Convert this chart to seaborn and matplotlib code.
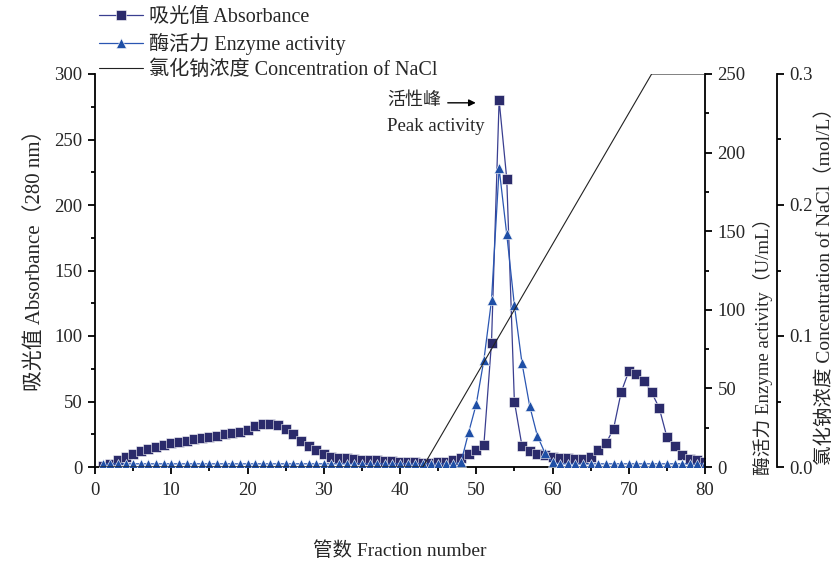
import matplotlib
matplotlib.use("Agg")
import matplotlib.pyplot as plt
from matplotlib.ticker import MultipleLocator, FormatStrFormatter
import seaborn as sns

# Fraction numbers collected from the column
fractions = list(range(1, 81))

# Absorbance at 280 nm for each fraction
absorbance = [1, 2, 5, 8, 10, 12, 13.5, 15, 16.5, 18,
              19, 20, 21, 22, 23, 24, 25, 26, 27, 28.5,
              31, 33, 33, 32, 29, 25, 20, 16, 13, 10,
              8, 7, 6.5, 6, 5.5, 5, 5, 4.5, 4.5, 4,
              4, 3.5, 3, 3, 3.5, 4, 5, 7, 10, 13,
              17, 95, 280, 220, 50, 16, 12, 10, 9, 8,
              7, 6.5, 6, 6, 8, 13, 18, 29, 57, 73,
              71, 66, 57, 45, 23, 16, 9, 6, 5, 4]

# Enzyme activity (U/mL) for each fraction
enzyme = [2] * 47 + [3, 22, 40, 68, 106, 190, 148, 103, 66, 39, 20, 9, 3] + [2] * 20

# NaCl gradient (mol/L): breakpoints of the elution program
nacl_x = [0, 43, 73, 80]
nacl_y = [0.0, 0.0, 0.3, 0.3]

abs_color = "#2b2b6b"
abs_line = "#3a3f90"
enz_color = "#1f4fa6"
enz_line = "#2a56b2"

sns.set_style("ticks")
plt.rcParams["font.family"] = ["Liberation Serif", "Noto Sans CJK SC"]
plt.rcParams["font.size"] = 13.5
plt.rcParams["axes.linewidth"] = 1.3

W, H = 836, 565
x0, x1 = 95, 705          # plot area left/right in pixels
y_top, y_bot = 74, 467    # plot area top/bottom in pixels

fig = plt.figure(figsize=(W / 100, H / 100), dpi=100)
ax = fig.add_axes([x0 / W, 1 - y_bot / H, (x1 - x0) / W, (y_bot - y_top) / H])
ax2 = ax.twinx()
ax3 = ax.twinx()
ax3.spines["right"].set_position(("axes", (777 - x0) / (x1 - x0)))

sns.lineplot(x=fractions, y=absorbance, ax=ax, color=abs_line, linewidth=0.9,
             marker="s", markersize=7, markerfacecolor=abs_color,
             markeredgecolor="white", markeredgewidth=0.4,
             label="吸光值 Absorbance", legend=False)
sns.lineplot(x=fractions, y=enzyme, ax=ax2, color=enz_line, linewidth=0.9,
             marker="^", markersize=7.5, markerfacecolor=enz_color,
             markeredgecolor="white", markeredgewidth=0.4,
             label="酶活力 Enzyme activity", legend=False)
sns.lineplot(x=nacl_x, y=nacl_y, ax=ax3, color="#222222", linewidth=0.8,
             label="氯化钠浓度 Concentration of NaCl", legend=False)

ax.set_xlim(0, 80)
ax.set_ylim(0, 300)
ax2.set_ylim(0, 250)
ax3.set_ylim(0, 0.3)

ax.xaxis.set_major_locator(MultipleLocator(10))
ax.xaxis.set_minor_locator(MultipleLocator(5))
ax.yaxis.set_major_locator(MultipleLocator(50))
ax.yaxis.set_minor_locator(MultipleLocator(25))
ax2.yaxis.set_major_locator(MultipleLocator(50))
ax2.yaxis.set_minor_locator(MultipleLocator(25))
ax3.yaxis.set_major_locator(MultipleLocator(0.1))
ax3.yaxis.set_minor_locator(MultipleLocator(0.05))
ax3.yaxis.set_major_formatter(FormatStrFormatter("%.1f"))

for a in (ax, ax2, ax3):
    a.tick_params(which="major", direction="out", length=5, width=1.3,
                  labelsize=13.5, color="black", pad=4)
    a.tick_params(which="minor", direction="out", length=3, width=1.3, color="black")
    a.spines["top"].set_visible(False)
    for s in a.spines.values():
        s.set_color("black")
        s.set_linewidth(1.3)
ax.tick_params(axis="x", which="major", pad=6)
ax.spines["right"].set_visible(False)
for a in (ax2, ax3):
    a.spines["left"].set_visible(False)
    a.spines["bottom"].set_visible(False)
ax.grid(False)

ax.set_xlabel("管数 Fraction number", fontsize=14)
ax.set_ylabel("吸光值 Absorbance（280 nm）", fontsize=15)
ax2.set_ylabel("酶活力 Enzyme activity（U/mL）", fontsize=13.5)
ax3.set_ylabel("氯化钠浓度 Concentration of NaCl（mol/L）", fontsize=14)
for lab in (ax.xaxis.label, ax.yaxis.label, ax2.yaxis.label, ax3.yaxis.label):
    lab.set_ha("center")
    lab.set_va("center")
span = y_bot - y_top
ax.xaxis.set_label_coords(0.5, (y_bot - 551) / span)
ax.yaxis.set_label_coords((35 - x0) / (x1 - x0), (y_bot - 255) / span)
ax2.yaxis.set_label_coords((763 - x0) / (x1 - x0), (y_bot - 342) / span)
ax3.yaxis.set_label_coords((825 - x0) / (x1 - x0), (y_bot - 282) / span)

# Peak annotation with arrow toward the absorbance maximum
ax.text(38.3, 280, "活性峰", fontsize=13, va="center", ha="left")
ax.text(38.3, 260, "Peak activity", fontsize=13.5, va="center", ha="left")
ax.annotate("", xy=(50.3, 278), xytext=(45.9, 278),
            arrowprops=dict(arrowstyle="-|>", color="black", lw=1.0, mutation_scale=10))

handles = []
labels = []
for a in (ax, ax2, ax3):
    h, l = a.get_legend_handles_labels()
    handles += h
    labels += l
fig.legend(handles, labels, loc="upper left", bbox_to_anchor=(99 / W, 1 - 8 / H),
           frameon=False, fontsize=14.5, handlelength=2.2, handletextpad=0.3,
           labelspacing=0.28, borderaxespad=0, borderpad=0)

fig.savefig("out.png", dpi=100, facecolor="white")
